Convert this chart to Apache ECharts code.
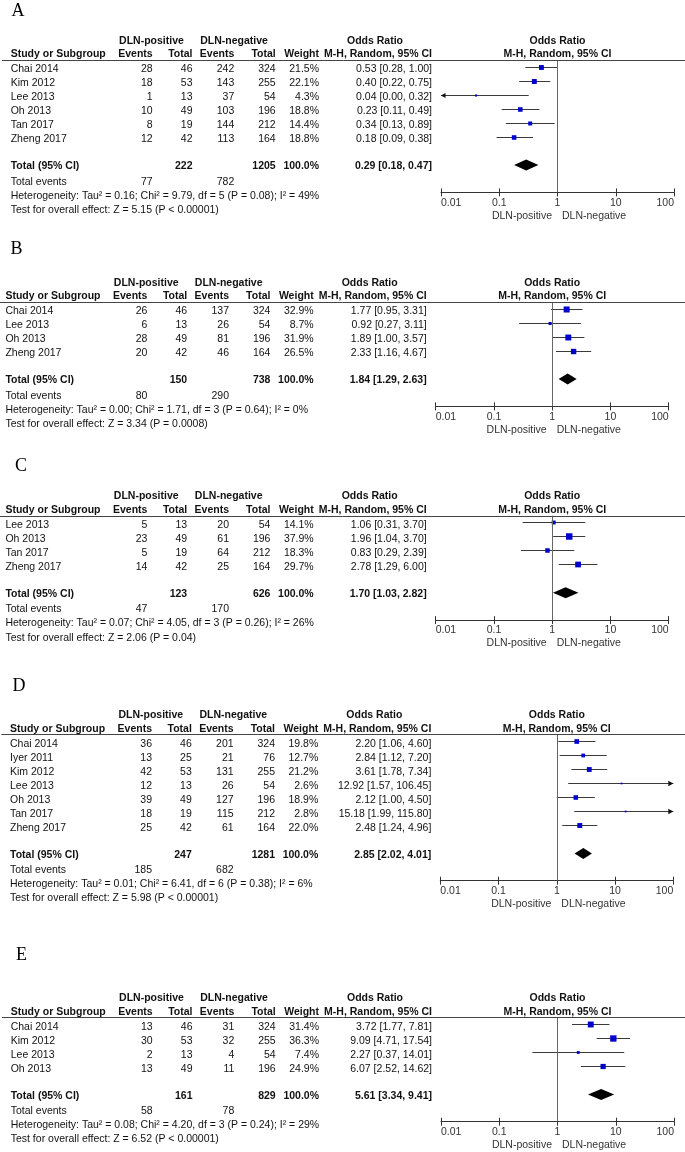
<!DOCTYPE html>
<html><head><meta charset="utf-8">
<script src="https://cdn.jsdelivr.net/npm/echarts@6/dist/echarts.min.js"></script>
<style>html,body{margin:0;padding:0;background:#fff}#chart{width:685px;height:1152px}</style>
</head><body><div id="chart"></div>
<script>
// ---------- DATA ----------
const panelLetters = ['A', 'B', 'C', 'D', 'E'];
const tickLabels = ['0.01', '0.1', '1', '10', '100'];
const sideLabels = ['DLN-positive', 'DLN-negative'];
const headerTop = ['DLN-positive', 'DLN-negative', 'Odds Ratio', 'Odds Ratio'];
const headerBottom = ['Study or Subgroup', 'Events', 'Total', 'Events', 'Total', 'Weight', 'M-H, Random, 95% CI', 'M-H, Random, 95% CI'];
const rowLabels = ['Total (95% CI)', 'Total events'];

// Panel A
const studiesA = ['Chai 2014', 'Kim 2012', 'Lee 2013', 'Oh 2013', 'Tan 2017', 'Zheng 2017'];
const posEventsA = [28, 18, 1, 10, 8, 12];
const posTotalA = [46, 53, 13, 49, 19, 42];
const negEventsA = [242, 143, 37, 103, 144, 113];
const negTotalA = [324, 255, 54, 196, 212, 164];
const weightA = [21.5, 22.1, 4.3, 18.8, 14.4, 18.8];
const orA = [0.53, 0.40, 0.04, 0.23, 0.34, 0.18];
const lowerA = [0.28, 0.22, 0.00, 0.11, 0.13, 0.09];
const upperA = [1.00, 0.75, 0.32, 0.49, 0.89, 0.38];
const pooledA = [0.29, 0.18, 0.47];
const totalsA = [222, 1205];
const totalEventsA = [77, 782];
const hetA = 'Heterogeneity: Tau\u00B2 = 0.16; Chi\u00B2 = 9.79, df = 5 (P = 0.08); I\u00B2 = 49%';
const testA = 'Test for overall effect: Z = 5.15 (P < 0.00001)';

// Panel B
const studiesB = ['Chai 2014', 'Lee 2013', 'Oh 2013', 'Zheng 2017'];
const posEventsB = [26, 6, 28, 20];
const posTotalB = [46, 13, 49, 42];
const negEventsB = [137, 26, 81, 46];
const negTotalB = [324, 54, 196, 164];
const weightB = [32.9, 8.7, 31.9, 26.5];
const orB = [1.77, 0.92, 1.89, 2.33];
const lowerB = [0.95, 0.27, 1.00, 1.16];
const upperB = [3.31, 3.11, 3.57, 4.67];
const pooledB = [1.84, 1.29, 2.63];
const totalsB = [150, 738];
const totalEventsB = [80, 290];
const hetB = 'Heterogeneity: Tau\u00B2 = 0.00; Chi\u00B2 = 1.71, df = 3 (P = 0.64); I\u00B2 = 0%';
const testB = 'Test for overall effect: Z = 3.34 (P = 0.0008)';

// Panel C
const studiesC = ['Lee 2013', 'Oh 2013', 'Tan 2017', 'Zheng 2017'];
const posEventsC = [5, 23, 5, 14];
const posTotalC = [13, 49, 19, 42];
const negEventsC = [20, 61, 64, 25];
const negTotalC = [54, 196, 212, 164];
const weightC = [14.1, 37.9, 18.3, 29.7];
const orC = [1.06, 1.96, 0.83, 2.78];
const lowerC = [0.31, 1.04, 0.29, 1.29];
const upperC = [3.70, 3.70, 2.39, 6.00];
const pooledC = [1.70, 1.03, 2.82];
const totalsC = [123, 626];
const totalEventsC = [47, 170];
const hetC = 'Heterogeneity: Tau\u00B2 = 0.07; Chi\u00B2 = 4.05, df = 3 (P = 0.26); I\u00B2 = 26%';
const testC = 'Test for overall effect: Z = 2.06 (P = 0.04)';

// Panel D
const studiesD = ['Chai 2014', 'Iyer 2011', 'Kim 2012', 'Lee 2013', 'Oh 2013', 'Tan 2017', 'Zheng 2017'];
const posEventsD = [36, 13, 42, 12, 39, 18, 25];
const posTotalD = [46, 25, 53, 13, 49, 19, 42];
const negEventsD = [201, 21, 131, 26, 127, 115, 61];
const negTotalD = [324, 76, 255, 54, 196, 212, 164];
const weightD = [19.8, 12.7, 21.2, 2.6, 18.9, 2.8, 22.0];
const orD = [2.20, 2.84, 3.61, 12.92, 2.12, 15.18, 2.48];
const lowerD = [1.06, 1.12, 1.78, 1.57, 1.00, 1.99, 1.24];
const upperD = [4.60, 7.20, 7.34, 106.45, 4.50, 115.80, 4.96];
const pooledD = [2.85, 2.02, 4.01];
const totalsD = [247, 1281];
const totalEventsD = [185, 682];
const hetD = 'Heterogeneity: Tau\u00B2 = 0.01; Chi\u00B2 = 6.41, df = 6 (P = 0.38); I\u00B2 = 6%';
const testD = 'Test for overall effect: Z = 5.98 (P < 0.00001)';

// Panel E
const studiesE = ['Chai 2014', 'Kim 2012', 'Lee 2013', 'Oh 2013'];
const posEventsE = [13, 30, 2, 13];
const posTotalE = [46, 53, 13, 49];
const negEventsE = [31, 32, 4, 11];
const negTotalE = [324, 255, 54, 196];
const weightE = [31.4, 36.3, 7.4, 24.9];
const orE = [3.72, 9.09, 2.27, 6.07];
const lowerE = [1.77, 4.71, 0.37, 2.52];
const upperE = [7.81, 17.54, 14.01, 14.62];
const pooledE = [5.61, 3.34, 9.41];
const totalsE = [161, 829];
const totalEventsE = [58, 78];
const hetE = 'Heterogeneity: Tau\u00B2 = 0.08; Chi\u00B2 = 4.20, df = 3 (P = 0.24); I\u00B2 = 29%';
const testE = 'Test for overall effect: Z = 6.52 (P < 0.00001)';

// ---------- LAYOUT (styling only) ----------
const layouts = [
  { lineY: 60,     shift: 0,    letterX: 11.5, letterY: 11.5 },
  { lineY: 302,    shift: -5.3, letterX: 10.5, letterY: 249 },
  { lineY: 515.7,  shift: -5.3, letterX: 15,   letterY: 466 },
  { lineY: 734.3,  shift: -0.7, letterX: 12.5, letterY: 686 },
  { lineY: 1017.3, shift: 0,    letterX: 16,   letterY: 955.5 }
];
const COL = { study: 10.7, posEv: 152.7, posTot: 192.5, negEv: 234.3, negTot: 275.7, weight: 319,
  or: 432, hPos: 151.5, hNeg: 234, hOr: 375, plotLeft: 441, plotWidth: 233 };
const ROW = 14, FIRST = 9.6, TOTAL_GAP = 27, AXIS_GAP = 25.8;
const AXIS_MIN = 0.01, AXIS_MAX = 100;
const FAM = '"Liberation Sans", Arial, Helvetica, sans-serif';
const F = '10.5px ' + FAM, FB = 'bold 10.5px ' + FAM;
const TXT = '#111', AX = '#333';

const panels = [
  [studiesA, posEventsA, posTotalA, negEventsA, negTotalA, weightA, orA, lowerA, upperA, pooledA, totalsA, totalEventsA, hetA, testA],
  [studiesB, posEventsB, posTotalB, negEventsB, negTotalB, weightB, orB, lowerB, upperB, pooledB, totalsB, totalEventsB, hetB, testB],
  [studiesC, posEventsC, posTotalC, negEventsC, negTotalC, weightC, orC, lowerC, upperC, pooledC, totalsC, totalEventsC, hetC, testC],
  [studiesD, posEventsD, posTotalD, negEventsD, negTotalD, weightD, orD, lowerD, upperD, pooledD, totalsD, totalEventsD, hetD, testD],
  [studiesE, posEventsE, posTotalE, negEventsE, negTotalE, weightE, orE, lowerE, upperE, pooledE, totalsE, totalEventsE, hetE, testE]
].map((a, k) => ({
  letter: panelLetters[k], studies: a[0], posEvents: a[1], posTotal: a[2], negEvents: a[3], negTotal: a[4],
  weight: a[5], or: a[6], lower: a[7], upper: a[8], pooled: a[9], totals: a[10], totalEvents: a[11],
  het: a[12], test: a[13], layout: layouts[k]
}));

function geom(p) {
  const n = p.studies.length;
  const lineY = p.layout.lineY;
  const firstY = lineY + FIRST;
  const lastY = firstY + ROW * (n - 1);
  const totalY = lastY + TOTAL_GAP;
  const axisY = totalY + AXIS_GAP;
  return { n, lineY, firstY, lastY, totalY, axisY };
}
const f2 = v => v.toFixed(2);
const ciText = (o, l, h) => f2(o) + ' [' + f2(l) + ', ' + f2(h) + ']';

function renderStudy(params, api) {
  const cs = params.coordSys;
  const lo = api.value(1), hi = api.value(2), row = api.value(3), w = api.value(4);
  const y = Math.round(api.coord([1, row])[1] - 3) + 0.5;
  const minX = cs.x, maxX = cs.x + cs.width;
  const x0 = lo >= AXIS_MIN ? api.coord([lo, row])[0] : minX;
  const x1 = hi <= AXIS_MAX ? api.coord([hi, row])[0] : maxX;
  const xc = api.coord([api.value(0), row])[0];
  const s = 1.05 * Math.sqrt(w);
  const children = [{ type: 'line', shape: { x1: x0, y1: y, x2: x1, y2: y }, style: { stroke: '#3a3a3a', lineWidth: 1 } }];
  if (lo < AXIS_MIN) children.push({ type: 'polygon', shape: { points: [[minX, y], [minX + 4.5, y - 2.5], [minX + 4.5, y + 2.5]] }, style: { fill: '#111' } });
  if (hi > AXIS_MAX) children.push({ type: 'polygon', shape: { points: [[maxX, y], [maxX - 5, y - 2.7], [maxX - 5, y + 2.7]] }, style: { fill: '#111' } });
  children.push({ type: 'rect', shape: { x: xc - s / 2, y: y - s / 2, width: s, height: s }, style: { fill: '#0000cc' } });
  return { type: 'group', children };
}
function renderPooled(params, api) {
  const row = api.value(3);
  const y = api.coord([1, row])[1] - 1.5;
  const x0 = api.coord([api.value(1), row])[0];
  const x1 = api.coord([api.value(2), row])[0];
  const xc = api.coord([api.value(0), row])[0];
  return { type: 'polygon', shape: { points: [[x0, y], [xc, y - 5.5], [x1, y], [xc, y + 5.5]] }, style: { fill: '#000' } };
}

const grids = [], xAxes = [], yAxes = [], series = [];
panels.forEach((p, k) => {
  const g = geom(p);
  grids.push({ left: COL.plotLeft + p.layout.shift, top: g.lineY, width: COL.plotWidth, height: g.axisY - g.lineY });
  const base = { gridIndex: k, type: 'log', logBase: 10, min: AXIS_MIN, max: AXIS_MAX, position: 'bottom', offset: 0, splitLine: { show: false } };
  xAxes.push(Object.assign({}, base, {
    axisLine: { show: true, onZero: false, lineStyle: { color: '#333', width: 1 } },
    axisTick: { show: true, length: 4, lineStyle: { color: '#333' } },
    axisLabel: { show: true, margin: 5, color: AX, fontFamily: FAM, fontSize: 10.5,
      alignMinLabel: 'left', alignMaxLabel: 'right',
      formatter: v => tickLabels[Math.round(Math.log10(v)) + 2] }
  }));
  xAxes.push(Object.assign({}, base, {
    axisLine: { show: false, onZero: false }, axisLabel: { show: false },
    axisTick: { show: true, inside: true, length: 4, lineStyle: { color: '#333' } }
  }));
  yAxes.push({ gridIndex: k, type: 'value', inverse: true, min: -FIRST / ROW, max: (g.axisY - g.firstY) / ROW, show: false, splitLine: { show: false } });
  series.push({
    type: 'custom', xAxisIndex: 2 * k, yAxisIndex: k, renderItem: renderStudy,
    encode: { x: 0, y: 3 },
    data: p.studies.map((s, i) => [p.or[i], p.lower[i], p.upper[i], i, p.weight[i]]),
    markLine: { silent: true, symbol: ['none', 'none'], label: { show: false },
      lineStyle: { color: '#666', type: 'solid', width: 1 }, data: [{ xAxis: 1 }] },
    z: 3
  });
  series.push({
    type: 'custom', xAxisIndex: 2 * k, yAxisIndex: k, renderItem: renderPooled,
    encode: { x: 0, y: 3 },
    data: [[p.pooled[0], p.pooled[1], p.pooled[2], (g.totalY - g.firstY) / ROW]],
    z: 4
  });
});

const chart = echarts.init(document.getElementById('chart'), null, { renderer: 'canvas' });
chart.setOption({ animation: false, backgroundColor: '#fff', grid: grids, xAxis: xAxes, yAxis: yAxes, series });

function txt(x, y, text, align, font, fill) {
  return { type: 'text', x, y, silent: true, z: 10,
    style: { text, font: font || F, fill: fill || TXT, align, verticalAlign: 'middle', textAlign: align, textVerticalAlign: 'middle' } };
}
const graphics = [];
panels.forEach((p, k) => {
  const g = geom(p), sh = p.layout.shift;
  const X = key => COL[key] + sh;
  const x1 = chart.convertToPixel({ xAxisIndex: 2 * k }, 1);
  graphics.push(txt(p.layout.letterX, p.layout.letterY, p.letter, 'left', '18px "Liberation Serif", "Times New Roman", serif', '#000'));
  const h1 = g.lineY - 19.3, h2 = g.lineY - 5.5;
  graphics.push(txt(X('hPos'), h1, headerTop[0], 'center', FB));
  graphics.push(txt(X('hNeg'), h1, headerTop[1], 'center', FB));
  graphics.push(txt(X('hOr'), h1, headerTop[2], 'center', FB));
  graphics.push(txt(x1, h1, headerTop[3], 'center', FB));
  graphics.push(txt(X('study'), h2, headerBottom[0], 'left', FB));
  graphics.push(txt(X('posEv'), h2, headerBottom[1], 'right', FB));
  graphics.push(txt(X('posTot'), h2, headerBottom[2], 'right', FB));
  graphics.push(txt(X('negEv'), h2, headerBottom[3], 'right', FB));
  graphics.push(txt(X('negTot'), h2, headerBottom[4], 'right', FB));
  graphics.push(txt(X('weight'), h2, headerBottom[5], 'right', FB));
  graphics.push(txt(X('or'), h2, headerBottom[6], 'right', FB));
  graphics.push(txt(x1, h2, headerBottom[7], 'center', FB));
  const ly = Math.round(g.lineY) + 0.5;
  graphics.push({ type: 'line', silent: true, z: 9, shape: { x1: Math.max(0, 2 + sh), y1: ly, x2: 685, y2: ly }, style: { stroke: '#444', lineWidth: 1 } });
  p.studies.forEach((s, i) => {
    const y = g.firstY + ROW * i;
    graphics.push(txt(X('study'), y, s, 'left'));
    graphics.push(txt(X('posEv'), y, String(p.posEvents[i]), 'right'));
    graphics.push(txt(X('posTot'), y, String(p.posTotal[i]), 'right'));
    graphics.push(txt(X('negEv'), y, String(p.negEvents[i]), 'right'));
    graphics.push(txt(X('negTot'), y, String(p.negTotal[i]), 'right'));
    graphics.push(txt(X('weight'), y, p.weight[i].toFixed(1) + '%', 'right'));
    graphics.push(txt(X('or'), y, ciText(p.or[i], p.lower[i], p.upper[i]), 'right'));
  });
  const sumW = p.weight.reduce((a, b) => a + b, 0);
  graphics.push(txt(X('study'), g.totalY, rowLabels[0], 'left', FB));
  graphics.push(txt(X('posTot'), g.totalY, String(p.totals[0]), 'right', FB));
  graphics.push(txt(X('negTot'), g.totalY, String(p.totals[1]), 'right', FB));
  graphics.push(txt(X('weight'), g.totalY, (Math.round(sumW * 10) / 10 >= 99.5 ? '100.0' : sumW.toFixed(1)) + '%', 'right', FB));
  graphics.push(txt(X('or'), g.totalY, ciText(p.pooled[0], p.pooled[1], p.pooled[2]), 'right', FB));
  const ey = g.totalY + 15.2;
  graphics.push(txt(X('study'), ey, rowLabels[1], 'left'));
  graphics.push(txt(X('posEv'), ey, String(p.totalEvents[0]), 'right'));
  graphics.push(txt(X('negEv'), ey, String(p.totalEvents[1]), 'right'));
  graphics.push(txt(X('study'), g.totalY + 29.2, p.het, 'left'));
  graphics.push(txt(X('study'), g.totalY + 43.5, p.test, 'left'));
  graphics.push(txt(x1 - 5.5, g.axisY + 23.5, sideLabels[0], 'right', F, AX));
  graphics.push(txt(x1 + 4.5, g.axisY + 23.5, sideLabels[1], 'left', F, AX));
});
chart.setOption({ graphic: { elements: graphics } });
</script></body></html>
